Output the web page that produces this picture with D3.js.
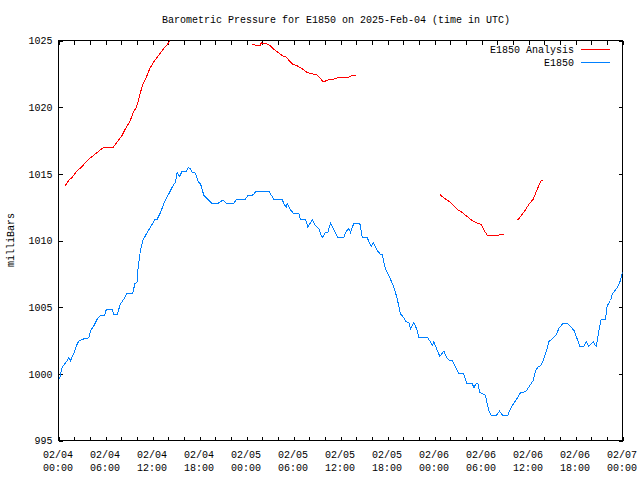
<!DOCTYPE html>
<html>
<head>
<meta charset="utf-8">
<script src="https://cdn.jsdelivr.net/npm/d3@7"></script>
<style>
  body { margin: 0; background: #fff; }
  svg text { font-family: 'Liberation Mono', 'DejaVu Sans Mono', monospace; font-size: 10px; fill: #000; }
</style>
</head>
<body>
<div id="chart"></div>
<script>
// hours since 2025-02-04 00:00 UTC, pressure in mb
const stationHours = [0.13, 0.47, 1.11, 1.31, 1.53, 1.95, 2.39, 2.59, 3.10, 3.87, 4.09, 4.51, 4.94, 5.36, 5.91, 6.09, 6.86, 7.06, 7.49, 7.91,
  8.34, 8.77, 9.49, 9.74, 10.05, 10.17, 10.47, 10.76, 11.32, 11.74, 12.29, 12.60, 13.02, 13.44, 14.08, 14.51, 14.94, 15.15, 15.45, 15.79,
  16.30, 16.56, 16.85, 17.07, 17.49, 17.83, 18.13, 18.55, 19.19, 19.53, 20.39, 20.90, 21.10, 21.41, 22.38, 22.69, 23.78, 24.22, 24.73, 25.06,
  25.15, 26.85, 27.49, 28.56, 28.76, 29.07, 29.20, 29.62, 30.04, 30.68, 30.89, 31.53, 31.83, 32.39, 32.81, 33.23, 33.66, 34.09, 34.38, 34.72,
  35.07, 35.36, 35.66, 36.42, 36.64, 37.06, 37.28, 37.70, 38.46, 38.77, 39.41, 39.92, 40.17, 40.69, 41.11, 41.32, 41.53, 41.74, 42.04, 42.38,
  42.73, 43.02, 43.24, 43.44, 43.66, 44.08, 44.39, 44.72, 44.94, 45.36, 45.70, 46.00, 47.07, 47.49, 47.71, 47.91, 48.26, 48.68, 49.19, 49.62,
  49.96, 50.26, 50.68, 51.10, 51.74, 52.09, 52.81, 53.02, 53.23, 53.53, 53.78, 54.51, 54.73, 54.93, 55.24, 55.91, 56.30, 56.68, 57.36, 57.70,
  58.13, 58.64, 58.98, 59.62, 60.04, 60.60, 60.89, 61.19, 61.53, 61.95, 62.30, 62.59, 63.15, 63.57, 63.87, 64.43, 64.94, 65.58, 65.87, 66.22,
  66.55, 67.06, 67.37, 67.70, 68.26, 68.64, 68.98, 69.28, 69.83, 70.05, 70.47, 70.72, 71.36, 71.74, 72.0];
const stationMb = [999.6, 1000.5, 1001.0, 1001.25, 1001.0, 1001.5, 1002.25, 1002.45, 1002.6, 1002.7, 1003.25, 1003.6, 1004.1, 1004.4, 1004.4, 1004.8, 1004.8, 1004.45, 1004.45, 1005.25,
  1005.6, 1006.05, 1006.05, 1006.75, 1006.9, 1008.0, 1009.3, 1010.0, 1010.6, 1011.0, 1011.55, 1011.6, 1012.1, 1012.75, 1013.5, 1014.0, 1014.4, 1015.1, 1014.8, 1015.2,
  1015.2, 1015.45, 1015.4, 1015.1, 1015.05, 1014.4, 1014.25, 1013.4, 1013.0, 1012.8, 1012.8, 1013.0, 1013.0, 1012.8, 1012.8, 1013.05, 1013.05, 1013.4, 1013.4, 1013.55,
  1013.7, 1013.7, 1013.1, 1013.1, 1012.75, 1012.5, 1012.75, 1012.3, 1012.0, 1012.0, 1011.6, 1011.6, 1011.0, 1011.55, 1011.1, 1010.9, 1010.2, 1010.6, 1010.6, 1011.3,
  1010.9, 1010.6, 1010.2, 1010.2, 1010.6, 1010.9, 1010.6, 1011.3, 1011.3, 1010.25, 1010.2, 1009.55, 1009.85, 1009.25, 1008.95, 1008.95, 1008.4, 1007.9, 1007.5, 1007.1,
  1006.6, 1006.1, 1005.6, 1005.1, 1004.5, 1004.2, 1003.9, 1003.85, 1003.4, 1003.85, 1003.4, 1002.75, 1002.75, 1002.4, 1002.1, 1002.4, 1001.9, 1001.3, 1001.7, 1001.15,
  1001.0, 1001.0, 1000.5, 1000.05, 1000.0, 999.3, 999.3, 998.95, 999.2, 999.3, 998.6, 998.4, 997.75, 997.25, 996.9, 996.9, 997.2, 996.9, 996.9, 997.4,
  997.8, 998.25, 998.6, 998.65, 999.0, 999.5, 1000.2, 1000.5, 1000.6, 1001.1, 1001.75, 1002.4, 1002.7, 1002.95, 1003.4, 1003.8, 1003.8, 1003.4, 1003.2, 1002.6,
  1002.05, 1002.05, 1002.4, 1002.05, 1002.4, 1002.05, 1003.2, 1004.1, 1004.1, 1005.1, 1005.5, 1006.0, 1006.5, 1007.0, 1007.6];

// analysis series, null marks a gap
const analysisHours = [0.80, 1.31, 1.75, 2.39, 3.03, 3.66, 4.30, 4.94, 5.78, 6.98, 7.49, 8.13, 8.55, 9.10, 9.54, 9.96, 10.25, 10.69, 11.11, 11.66,
  12.17, 12.80, 13.44, 13.95, 14.43, 19.0,
  24.64, 25.06, 25.15, 25.70, 25.91, 26.04, 26.55, 26.72, 26.97, 27.28, 27.70, 28.25, 28.76, 29.11, 29.40, 29.83, 30.47, 30.89, 31.32, 31.75,
  32.39, 33.03, 33.36, 33.79, 34.51, 35.15, 35.66, 36.85, 37.19, 37.62, 38.00, 43.0,
  48.68, 49.19, 49.83, 50.46, 50.97, 51.54, 52.17, 52.81, 53.45, 53.96, 54.29, 54.73, 56.21, 56.43, 56.85, 57.8,
  58.64, 58.98, 59.49, 60.04, 60.60, 61.02, 61.44, 61.62, 61.87];
const analysisMb = [1014.05, 1014.5, 1014.75, 1015.25, 1015.55, 1016.0, 1016.3, 1016.6, 1017.0, 1017.0, 1017.4, 1017.9, 1018.4, 1018.9, 1019.6, 1020.0, 1020.6, 1021.6, 1022.1, 1022.9,
  1023.4, 1023.9, 1024.4, 1024.75, 1025.2, null,
  1024.7, 1024.7, 1024.6, 1024.6, 1024.85, 1024.75, 1024.75, 1024.7, 1024.65, 1024.45, 1024.25, 1024.0, 1023.8, 1023.75, 1023.5, 1023.25, 1023.1, 1022.95, 1022.8, 1022.6,
  1022.5, 1022.4, 1022.2, 1021.9, 1022.05, 1022.1, 1022.2, 1022.2, 1022.3, 1022.4, 1022.4, null,
  1013.45, 1013.2, 1012.95, 1012.6, 1012.3, 1012.1, 1011.8, 1011.5, 1011.3, 1011.2, 1010.8, 1010.4, 1010.4, 1010.45, 1010.45, null,
  1011.55, 1011.8, 1012.2, 1012.7, 1013.1, 1013.7, 1014.3, 1014.5, 1014.5];

const xTickDays = ['02/04', '02/04', '02/04', '02/04', '02/05', '02/05', '02/05', '02/05', '02/06', '02/06', '02/06', '02/06', '02/07'];
const xTickTimes = ['00:00', '06:00', '12:00', '18:00', '00:00', '06:00', '12:00', '18:00', '00:00', '06:00', '12:00', '18:00', '00:00'];
const yTicks = [995, 1000, 1005, 1010, 1015, 1020, 1025];

const W = 640, H = 480;
const plotLeft = 58, plotRight = 622, plotTop = 40, plotBottom = 440;

const svg = d3.select('#chart').append('svg')
  .attr('width', W)
  .attr('height', H);

const x = d3.scaleLinear().domain([0, 72]).range([plotLeft, plotRight]);
const y = d3.scaleLinear().domain([995, 1025]).range([plotBottom, plotTop]);

svg.append('defs').append('clipPath').attr('id', 'plot')
  .append('rect')
  .attr('x', plotLeft).attr('y', plotTop)
  .attr('width', plotRight - plotLeft).attr('height', plotBottom - plotTop);

svg.append('text')
  .attr('x', 336)
  .attr('y', 23)
  .attr('text-anchor', 'middle')
  .text('Barometric Pressure for E1850 on 2025-Feb-04 (time in UTC)');

svg.append('text')
  .attr('transform', 'translate(14,240) rotate(-90)')
  .attr('text-anchor', 'middle')
  .text('milliBars');

const hourTicks = d3.range(0, 73, 2);

const g = svg.append('g').attr('transform', 'translate(0.5,0.5)');

g.append('g')
  .attr('transform', `translate(0,${plotBottom})`)
  .call(d3.axisBottom(x).tickValues(hourTicks).tickSizeInner(-4).tickSizeOuter(0).tickFormat(''))
  .call(ax => ax.select('.domain').remove());

g.append('g')
  .attr('transform', `translate(0,${plotTop})`)
  .call(d3.axisTop(x).tickValues(hourTicks).tickSizeInner(-4).tickSizeOuter(0).tickFormat(''))
  .call(ax => ax.select('.domain').remove());

g.append('g')
  .attr('transform', `translate(${plotLeft},0)`)
  .call(d3.axisLeft(y).tickValues(yTicks).tickSizeInner(-4).tickSizeOuter(0).tickPadding(6).tickFormat(d3.format('d')))
  .call(ax => ax.select('.domain').remove());

g.append('g')
  .attr('transform', `translate(${plotRight},0)`)
  .call(d3.axisRight(y).tickValues(yTicks).tickSizeInner(-4).tickSizeOuter(0).tickFormat(''))
  .call(ax => ax.select('.domain').remove());

g.selectAll('.tick line').attr('stroke', '#000').attr('shape-rendering', 'crispEdges');
g.selectAll('g').attr('font-size', null).attr('font-family', null);

const labels = svg.append('g');
xTickDays.forEach((day, i) => {
  const t = labels.append('text')
    .attr('text-anchor', 'middle')
    .attr('x', x(i * 6));
  t.append('tspan').attr('x', x(i * 6)).attr('y', 458).text(day);
  t.append('tspan').attr('x', x(i * 6)).attr('y', 471).text(xTickTimes[i]);
});

g.append('rect')
  .attr('x', plotLeft).attr('y', plotTop)
  .attr('width', plotRight - plotLeft).attr('height', plotBottom - plotTop)
  .attr('fill', 'none')
  .attr('stroke', '#000')
  .attr('shape-rendering', 'crispEdges');

const line = d3.line()
  .defined(d => d[1] !== null)
  .x(d => x(d[0]))
  .y(d => y(d[1]));

const plot = svg.append('g')
  .attr('clip-path', 'url(#plot)')
  .attr('transform', 'translate(0.5,0.5)');

plot.append('path')
  .datum(analysisHours.map((h, i) => [h, analysisMb[i]]))
  .attr('fill', 'none')
  .attr('stroke', '#ff0000')
  .attr('stroke-width', 1)
  .attr('shape-rendering', 'crispEdges')
  .attr('d', line);

plot.append('path')
  .datum(stationHours.map((h, i) => [h, stationMb[i]]))
  .attr('fill', 'none')
  .attr('stroke', '#0080ff')
  .attr('stroke-width', 1)
  .attr('shape-rendering', 'crispEdges')
  .attr('d', line);

// key
const keys = [['E1850 Analysis', '#ff0000'], ['E1850', '#0080ff']];
keys.forEach(([name, color], i) => {
  const ky = 49.5 + i * 13;
  svg.append('text')
    .attr('x', 574)
    .attr('y', ky + 3.5)
    .attr('text-anchor', 'end')
    .text(name);
  svg.append('line')
    .attr('x1', 581).attr('x2', 610)
    .attr('y1', ky).attr('y2', ky)
    .attr('stroke', color);
});
</script>
</body>
</html>
